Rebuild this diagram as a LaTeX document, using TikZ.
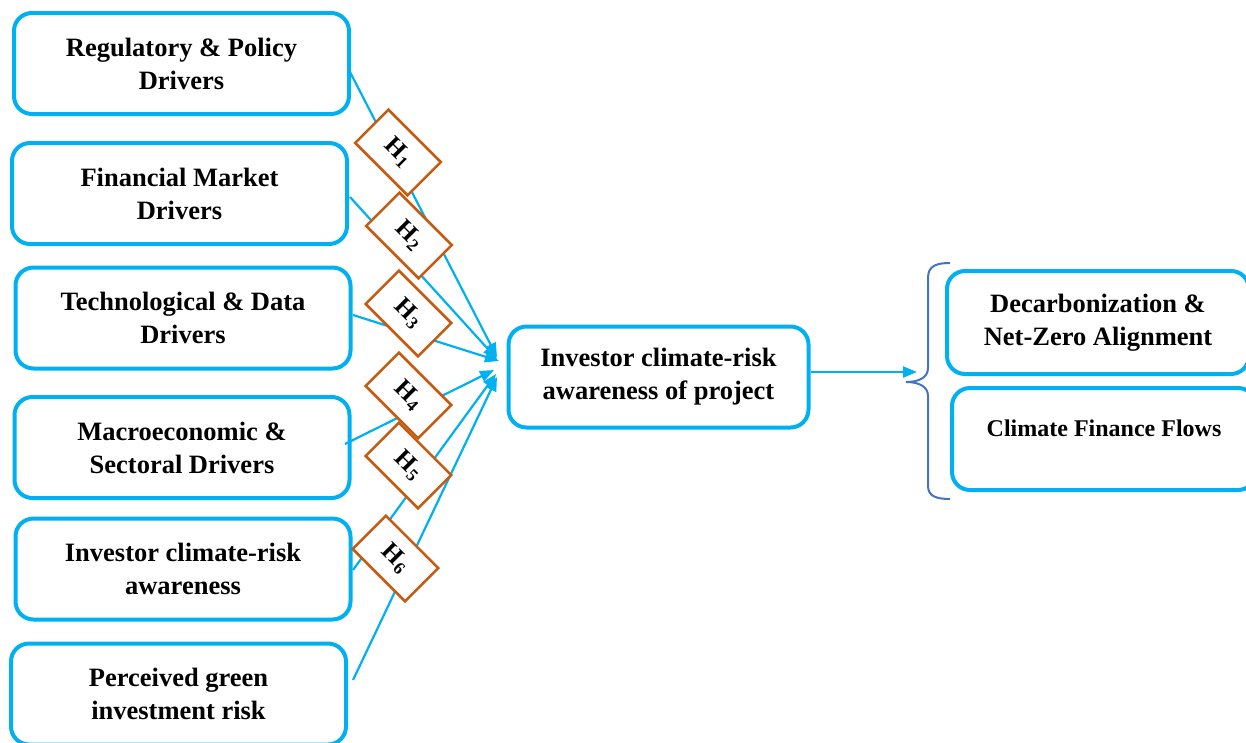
\documentclass[tikz,border=0pt]{standalone}
\usepackage{fontspec}
\setmainfont{Liberation Serif}
\usetikzlibrary{arrows.meta}
\definecolor{boxblue}{HTML}{00B0F0}
\definecolor{hyporange}{HTML}{C55A11}
\definecolor{braceblue}{HTML}{4472C4}
\begin{document}
\begin{tikzpicture}[x=1pt,y=-1pt,
  drvbox/.style={draw=boxblue, line width=4pt, rounded corners=18pt, fill=white,
    minimum width=335pt, minimum height=101pt, align=center, inner sep=0pt,
    font=\fontsize{26.5}{33}\selectfont\bfseries},
  hyp/.style={draw=hyporange, line width=2.5pt, fill=white, minimum width=74pt,
    minimum height=47pt, rotate=-45, inner sep=0pt},
  hyplab/.style={rotate=-45, inner sep=0pt, font=\fontsize{25}{25}\selectfont\bfseries},
  conn/.style={draw=boxblue, line width=2.2pt, -{Triangle[length=14pt,width=11pt]}},
  brc/.style={draw=braceblue, line width=2pt}]
\clip (0,0) rectangle (1246,742);
% left boxes
\node[drvbox] (b1) at (181.5,63.5) {Regulatory \& Policy\\Drivers};
\node[drvbox] (b2) at (179.5,193.5) {Financial Market\\Drivers};
\node[drvbox] (b3) at (183,318) {Technological \& Data\\Drivers};
\node[drvbox] (b4) at (182,447.5) {Macroeconomic \&\\Sectoral Drivers};
\node[drvbox] (b5) at (183,569) {Investor climate-risk\\awareness};
\node[drvbox] (b6) at (178.5,694) {Perceived green\\investment risk};
% central box
\node[drvbox, minimum width=300pt] (c) at (658.5,377) {Investor climate-risk\\awareness of project};
% right boxes
\node[drvbox, minimum width=302pt, minimum height=103pt] (d) at (1098,322.5) {Decarbonization \&\\Net-Zero Alignment};
\node[drvbox, minimum width=304pt, minimum height=102pt] (f) at (1104,439) {};
\node[font=\fontsize{24}{28}\selectfont\bfseries] (ft) at (1104,428) {Climate Finance Flows};
% connector coordinates
\coordinate (s1) at (350,72);
\coordinate (s2) at (350,197);
\coordinate (s3) at (353,315);
\coordinate (s4) at (345,444);
\coordinate (s5) at (353,570);
\coordinate (s6) at (353,680);
\coordinate (t1) at (497,357);
\coordinate (t2) at (497,359);
\coordinate (t3) at (499,361);
\coordinate (t4) at (494,370);
\coordinate (t5) at (496,374);
\coordinate (t6) at (497,377);
\draw[conn] (s1) -- (t1);
\draw[conn] (s2) -- (t2);
\draw[conn] (s3) -- (t3);
\draw[conn] (s4) -- (t4);
\draw[conn] (s5) -- (t5);
\draw[conn] (s6) -- (t6);
% arrow to brace
\coordinate (bt) at (917,372);
\draw[conn] (c.east |- bt) -- (bt);
% brace
\draw[brc] (950,263) .. controls (936,263) and (928,266) .. (928,278) -- (928,368)
  .. controls (928,378) and (918,382) .. (906,382)
  .. controls (918,382) and (928,386) .. (928,396) -- (928,486)
  .. controls (928,496) and (936,499) .. (950,499);
% hypotheses
\node[hyp] (h1) at (398,152.5) {};
\node[hyplab] (l1) at (h1) {H\textsubscript{1}};
\node[hyp] (h2) at (409,235.5) {};
\node[hyplab] (l2) at (h2) {H\textsubscript{2}};
\node[hyp] (h3) at (408.5,313.5) {};
\node[hyplab] (l3) at (h3) {H\textsubscript{3}};
\node[hyp] (h4) at (408.5,395.5) {};
\node[hyplab] (l4) at (h4) {H\textsubscript{4}};
\node[hyp] (h5) at (408.5,465.5) {};
\node[hyplab] (l5) at (h5) {H\textsubscript{5}};
\node[hyp] (h6) at (395.5,558.5) {};
\node[hyplab] (l6) at (h6) {H\textsubscript{6}};
\end{tikzpicture}
\end{document}
